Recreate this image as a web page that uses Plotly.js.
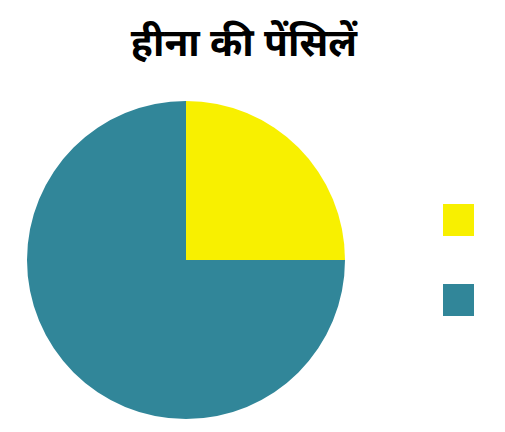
<!DOCTYPE html>
<html><head><meta charset="utf-8">
<script src="https://cdn.plot.ly/plotly-3.0.1.min.js"></script>
<style>html,body{margin:0;padding:0;background:#fff}#c{width:505px;height:432px}</style>
</head><body><div id="c"></div>
<script>
var labels = ["पीली", "नीली"];
var values = [25, 75];
var colors = ["#F8F000", "#318699"];

var W = 505, H = 432;
var cx = 186, cy = 260, r = 159;
var shapes = [];
var legY = [220, 300];
for (var i = 0; i < labels.length; i++) {
  shapes.push({type: "rect", xref: "paper", yref: "paper",
    x0: 443 / W, x1: 474 / W, y0: 1 - (legY[i] + 16) / H, y1: 1 - (legY[i] - 16) / H,
    fillcolor: colors[i], line: {width: 0}});
}
Plotly.newPlot("c", [{
  type: "pie", labels: labels, values: values, sort: false, direction: "clockwise", rotation: 0,
  marker: {colors: colors, line: {width: 0}}, textinfo: "none", hoverinfo: "label+value",
  domain: {x: [(cx - r) / W, (cx + r) / W], y: [1 - (cy + r) / H, 1 - (cy - r) / H]}
}], {
  width: W, height: H, margin: {l: 0, r: 0, t: 0, b: 0}, showlegend: false,
  paper_bgcolor: "#fff",
  title: {text: "<b>हीना की पेंसिलें</b>", x: 0.483, xanchor: "center", y: 1 - 42 / H, yanchor: "middle",
    font: {family: "Noto Sans, sans-serif", size: 39, color: "#000"}},
  shapes: shapes
}, {displayModeBar: false, staticPlot: true});
</script></body></html>
